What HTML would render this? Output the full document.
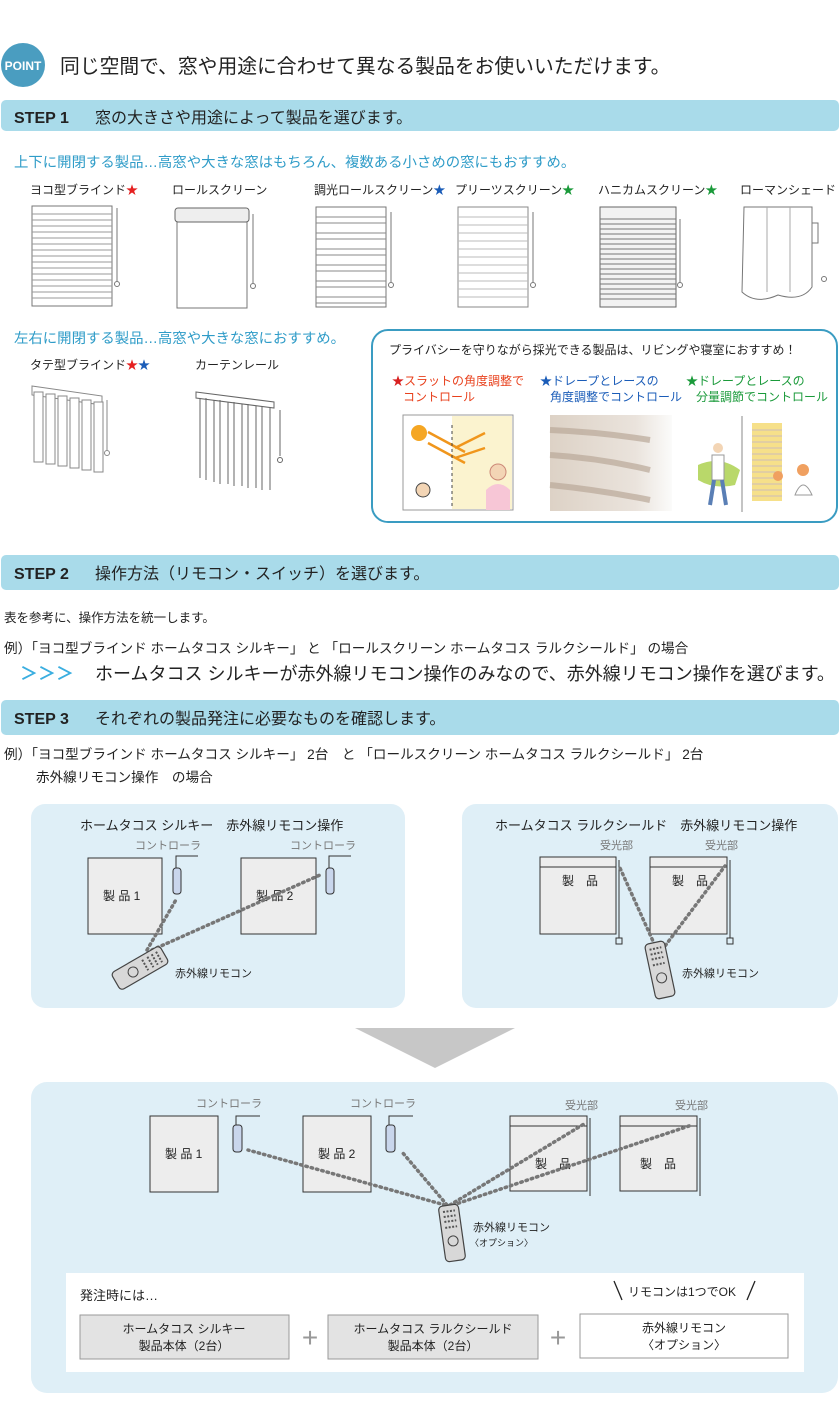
<!DOCTYPE html>
<html><head><meta charset="utf-8"><style>
html,body{margin:0;padding:0;background:#fff}
svg{display:block}
text{font-family:"Liberation Sans","Noto Sans CJK JP",sans-serif;fill:#222}
</style></head><body>
<svg width="840" height="1420" viewBox="0 0 840 1420" xmlns="http://www.w3.org/2000/svg">
<defs>
<g id="hb">
 <rect x="0" y="0" width="80" height="100" fill="#fff" stroke="#777" stroke-width="1"/>
 <path d="M0 8H80M0 14H80M0 20H80M0 26H80M0 32H80M0 38H80M0 44H80M0 50H80M0 56H80M0 62H80M0 68H80M0 74H80M0 80H80M0 86H80M0 92H80" stroke="#999" stroke-width="1"/>
 <line x1="85" y1="2" x2="85" y2="75" stroke="#777"/><circle cx="85" cy="78" r="2.5" fill="none" stroke="#777"/>
</g>
<g id="remote">
 <rect x="-10" y="-28" width="20" height="56" rx="4" fill="#d8d8d8" stroke="#444" stroke-width="1.2"/>
 <path d="M-6 -22h12M-6 -17h12M-6 -12h12M-6 -6h12" stroke="#555" stroke-width="2" stroke-dasharray="2 1.5"/>
 <circle cx="0" cy="8" r="5" fill="none" stroke="#444"/>
</g>
</defs>

<circle cx="23" cy="65" r="22" fill="#4a9dc0"/>
<text x="23" y="70" font-size="12" font-weight="bold" text-anchor="middle" style="fill:#fff">POINT</text>
<text x="60" y="73" font-size="19.8">同じ空間で、窓や用途に合わせて異なる製品をお使いいただけます。</text>

<rect x="1" y="100" width="838" height="31" rx="5" fill="#a9dbea"/>
<text x="14" y="123" font-size="16" font-weight="bold">STEP 1</text>
<text x="95" y="123" font-size="16">窓の大きさや用途によって製品を選びます。</text>
<text x="14" y="167" font-size="14.4" style="fill:#2f9cc8">上下に開閉する製品…高窓や大きな窓はもちろん、複数ある小さめの窓にもおすすめ。</text>
<text x="30" y="194" font-size="12">ヨコ型ブラインド<tspan style="fill:#e52020">★</tspan></text>
<text x="172" y="194" font-size="12">ロールスクリーン</text>
<text x="314" y="194" font-size="12">調光ロールスクリーン<tspan style="fill:#1a5cb8">★</tspan></text>
<text x="455" y="194" font-size="12">プリーツスクリーン<tspan style="fill:#1a9a3a">★</tspan></text>
<text x="598" y="194" font-size="12">ハニカムスクリーン<tspan style="fill:#1a9a3a">★</tspan></text>
<text x="740" y="194" font-size="12">ローマンシェード</text>

<use href="#hb" x="32" y="206"/>
<g transform="translate(175,208)"><rect x="2" y="8" width="70" height="92" fill="#fff" stroke="#777"/><rect x="0" y="0" width="74" height="14" rx="3" fill="#eee" stroke="#666"/><line x1="78" y1="6" x2="78" y2="75" stroke="#777"/><circle cx="78" cy="78" r="2.5" fill="none" stroke="#777"/></g>
<g transform="translate(316,207)"><rect x="0" y="0" width="70" height="100" fill="#fff" stroke="#777"/><path d="M0 10H70M0 16H70M0 26H70M0 32H70M0 42H70M0 48H70M0 58H70M0 64H70M0 74H70M0 80H70M0 90H70M0 96H70" stroke="#888"/><line x1="75" y1="5" x2="75" y2="75" stroke="#777"/><circle cx="75" cy="78" r="2.5" fill="none" stroke="#777"/></g>
<g transform="translate(458,207)"><rect x="0" y="0" width="70" height="100" fill="#fff" stroke="#888"/><path d="M0 10H70M0 18H70M0 26H70M0 34H70M0 42H70M0 50H70M0 58H70M0 66H70M0 74H70M0 82H70M0 90H70" stroke="#bbb"/><line x1="75" y1="5" x2="75" y2="75" stroke="#777"/><circle cx="75" cy="78" r="2.5" fill="none" stroke="#777"/></g>
<g transform="translate(600,207)"><rect x="0" y="0" width="76" height="100" fill="#f2f2f2" stroke="#666"/><path d="M0 12H76M0 17H76M0 22H76M0 27H76M0 32H76M0 37H76M0 42H76M0 47H76M0 52H76M0 57H76M0 62H76M0 67H76M0 72H76M0 77H76M0 82H76M0 87H76M0 92H76" stroke="#777"/><line x1="80" y1="12" x2="80" y2="75" stroke="#777"/><circle cx="80" cy="78" r="2.5" fill="none" stroke="#777"/></g>
<g transform="translate(742,207)"><path d="M2 0H70V80Q60 95 36 88Q14 98 0 85Z" fill="#fff" stroke="#777"/><line x1="25" y1="0" x2="25" y2="85" stroke="#aaa"/><line x1="48" y1="0" x2="48" y2="85" stroke="#aaa"/><rect x="70" y="16" width="6" height="20" fill="none" stroke="#777"/><circle cx="82" cy="72" r="2.5" fill="none" stroke="#777"/></g>

<text x="14" y="343" font-size="14.4" style="fill:#2f9cc8">左右に開閉する製品…高窓や大きな窓におすすめ。</text>
<text x="30" y="369" font-size="12">タテ型ブラインド<tspan style="fill:#e52020">★</tspan><tspan style="fill:#1a5cb8">★</tspan></text>
<text x="195" y="369" font-size="12">カーテンレール</text>
<g transform="translate(32,380)" stroke="#888" fill="#fff">
 <path d="M0 6L70 16V25L0 15Z"/>
 <rect x="2" y="12" width="9" height="70"/><rect x="14" y="14" width="9" height="70"/><rect x="26" y="16" width="9" height="70"/><rect x="38" y="18" width="9" height="70"/><rect x="50" y="20" width="9" height="70"/><rect x="62" y="22" width="9" height="70"/>
 <line x1="75" y1="20" x2="75" y2="70"/><circle cx="75" cy="73" r="2.5"/>
</g>
<g transform="translate(196,388)" stroke="#666" fill="#fff">
 <path d="M0 4L78 14V20L0 10Z"/>
 <path d="M4 10V90M10 10V92M18 12V94M24 12V96M32 14V96M38 14V98M46 16V98M52 16V100M60 18V100M66 18V102M74 20V102"/>
 <line x1="84" y1="22" x2="84" y2="68"/><circle cx="84" cy="72" r="2.5"/>
</g>

<rect x="372" y="330" width="465" height="192" rx="16" fill="#fff" stroke="#3a9cc2" stroke-width="2"/>
<text x="389" y="354" font-size="12">プライバシーを守りながら採光できる製品は、リビングや寝室におすすめ！</text>
<text x="392" y="385" font-size="12" style="fill:#e8401c"><tspan style="fill:#d82020">★</tspan>スラットの角度調整で</text>
<text x="403" y="401" font-size="12" style="fill:#e8401c">コントロール</text>
<text x="540" y="385" font-size="12" style="fill:#1a5cb8">★ドレープとレースの</text>
<text x="550" y="401" font-size="12" style="fill:#1a5cb8">角度調整でコントロール</text>
<text x="686" y="385" font-size="12" style="fill:#1a9a3a">★ドレープとレースの</text>
<text x="696" y="401" font-size="12" style="fill:#1a9a3a">分量調節でコントロール</text>
<rect x="403" y="415" width="110" height="95" fill="#fff" stroke="#999"/>
<rect x="452" y="416" width="60" height="93" fill="#fbf3cf"/>
<circle cx="419" cy="433" r="8" fill="#f5a623"/>
<path d="M428 432L465 452M428 443L465 463M455 448L485 433M455 458L485 448" stroke="#f0961c" stroke-width="2.5"/>
<path d="M452 425V509" stroke="#444" stroke-dasharray="3 3"/>
<circle cx="423" cy="490" r="7" fill="#f3d5b5" stroke="#444"/>
<circle cx="498" cy="472" r="8" fill="#f3d5b5" stroke="#c87"/>
<path d="M486 510V490Q498 478 510 490V510" fill="#f7c6d6"/>
<defs><linearGradient id="g2" x1="0" x2="1"><stop offset="0" stop-color="#ddd2c6"/><stop offset="0.7" stop-color="#eae3dc"/><stop offset="1" stop-color="#fbfbfa"/></linearGradient></defs>
<rect x="550" y="415" width="122" height="96" fill="url(#g2)"/>
<path d="M550 430Q600 432 650 440M550 455Q600 458 650 470M550 485Q600 490 650 500" stroke="#b9a898" stroke-width="6" fill="none" opacity="0.7"/>
<line x1="742" y1="416" x2="742" y2="512" stroke="#888"/>
<rect x="752" y="423" width="30" height="78" fill="#f6e08a"/>
<path d="M752 430H782M752 436H782M752 442H782M752 448H782M752 454H782M752 460H782M752 466H782M752 472H782M752 478H782M752 484H782M752 490H782M752 496H782" stroke="#cbb" stroke-width="1"/>
<path d="M698 465Q720 455 740 470L735 485Q715 490 698 480Z" fill="#b9d86a"/>
<circle cx="718" cy="448" r="5" fill="#f3d5b5"/><rect x="712" y="455" width="12" height="25" fill="#fff" stroke="#999"/><path d="M714 480L710 505M722 480L726 505" stroke="#5a7fb5" stroke-width="4"/>
<circle cx="803" cy="470" r="6" fill="#f0a060"/><path d="M795 495Q803 475 812 495Z" fill="#fff" stroke="#999"/>
<circle cx="778" cy="476" r="5" fill="#f0a060"/>

<rect x="1" y="555" width="838" height="35" rx="5" fill="#a9dbea"/>
<text x="14" y="579" font-size="16" font-weight="bold">STEP 2</text>
<text x="95" y="579" font-size="16">操作方法（リモコン・スイッチ）を選びます。</text>
<text x="4" y="622" font-size="12.5">表を参考に、操作方法を統一します。</text>
<text x="4" y="653" font-size="13.6">例）「ヨコ型ブラインド ホームタコス シルキー」 と 「ロールスクリーン ホームタコス ラルクシールド」 の場合</text>
<text x="20" y="680" font-size="18" font-weight="bold" style="fill:#3aaee0">＞＞＞</text>
<text x="95" y="680" font-size="18">ホームタコス シルキーが赤外線リモコン操作のみなので、赤外線リモコン操作を選びます。</text>

<rect x="1" y="700" width="838" height="35" rx="5" fill="#a9dbea"/>
<text x="14" y="724" font-size="16" font-weight="bold">STEP 3</text>
<text x="95" y="724" font-size="16">それぞれの製品発注に必要なものを確認します。</text>
<text x="4" y="759" font-size="13.6">例）「ヨコ型ブラインド ホームタコス シルキー」 2台　と 「ロールスクリーン ホームタコス ラルクシールド」 2台</text>
<text x="36" y="782" font-size="13.6">赤外線リモコン操作　の場合</text>

<rect x="31" y="804" width="374" height="204" rx="14" fill="#dfeff7"/>
<text x="80" y="830" font-size="13">ホームタコス シルキー　赤外線リモコン操作</text>
<text x="135" y="849" font-size="11" style="fill:#777">コントローラ</text>
<text x="290" y="849" font-size="11" style="fill:#777">コントローラ</text>
<rect x="88" y="858" width="74" height="76" fill="#ededed" stroke="#333"/>
<text x="103" y="900" font-size="12">製 品 1</text>
<rect x="241" y="858" width="75" height="76" fill="#ededed" stroke="#333"/>
<text x="256" y="900" font-size="12">製 品 2</text>
<path d="M176 868V856H198M329 868V856H351" stroke="#333" fill="none"/>
<rect x="173" y="868" width="8" height="26" rx="3" fill="#c9d6ec" stroke="#333"/>
<rect x="326" y="868" width="8" height="26" rx="3" fill="#c9d6ec" stroke="#333"/>
<path d="M147 950L177 898M152 950L320 875" stroke="#777" stroke-width="3.5" stroke-dasharray="1.5 4" stroke-linecap="round"/>
<g transform="translate(140,968) rotate(60)"><use href="#remote"/></g>
<text x="175" y="977" font-size="11">赤外線リモコン</text>

<rect x="462" y="804" width="376" height="204" rx="14" fill="#dfeff7"/>
<text x="495" y="830" font-size="13">ホームタコス ラルクシールド　赤外線リモコン操作</text>
<text x="600" y="849" font-size="11" style="fill:#777">受光部</text>
<text x="705" y="849" font-size="11" style="fill:#777">受光部</text>
<rect x="540" y="857" width="76" height="77" fill="#ededed" stroke="#333"/><line x1="540" y1="867" x2="616" y2="867" stroke="#333"/>
<text x="562" y="885" font-size="12">製　品</text>
<rect x="650" y="857" width="77" height="77" fill="#ededed" stroke="#333"/><line x1="650" y1="867" x2="727" y2="867" stroke="#333"/>
<text x="672" y="885" font-size="12">製　品</text>
<path d="M619 860V938M730 860V938" stroke="#333"/>
<rect x="616" y="938" width="6" height="6" fill="none" stroke="#333"/><rect x="727" y="938" width="6" height="6" fill="none" stroke="#333"/>
<path d="M657 950L620 868M662 950L725 866" stroke="#777" stroke-width="3.5" stroke-dasharray="1.5 4" stroke-linecap="round"/>
<g transform="translate(660,970) rotate(-12)"><use href="#remote"/></g>
<text x="682" y="977" font-size="11">赤外線リモコン</text>

<polygon points="355,1028 515,1028 435,1068" fill="#c7c7c7"/>

<rect x="31" y="1082" width="807" height="311" rx="16" fill="#dfeff7"/>
<text x="196" y="1107" font-size="11" style="fill:#777">コントローラ</text>
<text x="350" y="1107" font-size="11" style="fill:#777">コントローラ</text>
<text x="565" y="1109" font-size="11" style="fill:#777">受光部</text>
<text x="675" y="1109" font-size="11" style="fill:#777">受光部</text>
<rect x="150" y="1116" width="68" height="76" fill="#ededed" stroke="#333"/>
<text x="165" y="1158" font-size="12">製 品 1</text>
<rect x="303" y="1116" width="68" height="76" fill="#ededed" stroke="#333"/>
<text x="318" y="1158" font-size="12">製 品 2</text>
<path d="M236 1125V1116H260M389 1125V1116H413" stroke="#333" fill="none"/>
<rect x="233" y="1125" width="9" height="27" rx="3" fill="#c9d6ec" stroke="#333"/>
<rect x="386" y="1125" width="9" height="27" rx="3" fill="#c9d6ec" stroke="#333"/>
<rect x="510" y="1116" width="77" height="75" fill="#ededed" stroke="#333"/><line x1="510" y1="1126" x2="587" y2="1126" stroke="#333"/>
<text x="535" y="1168" font-size="12">製　品</text>
<rect x="620" y="1116" width="77" height="75" fill="#ededed" stroke="#333"/><line x1="620" y1="1126" x2="697" y2="1126" stroke="#333"/>
<text x="640" y="1168" font-size="12">製　品</text>
<path d="M590 1118V1196M700 1118V1196" stroke="#333"/>
<path d="M445 1205L248 1150M447 1205L402 1152M450 1205L584 1124M453 1205L692 1125" stroke="#777" stroke-width="3.5" stroke-dasharray="1.5 4" stroke-linecap="round"/>
<g transform="translate(452,1233) rotate(-8)"><use href="#remote"/></g>
<text x="473" y="1231" font-size="11">赤外線リモコン</text>
<text x="470" y="1246" font-size="9">〈オプション〉</text>

<rect x="66" y="1273" width="738" height="99" fill="#fff"/>
<text x="80" y="1300" font-size="13">発注時には…</text>
<path d="M614 1281L622 1300M755 1281L747 1300" stroke="#222" stroke-width="1.3"/>
<text x="628" y="1296" font-size="12">リモコンは1つでOK</text>
<rect x="80" y="1315" width="209" height="44" fill="#e3e3e3" stroke="#999"/>
<text x="184" y="1333" font-size="12" text-anchor="middle">ホームタコス シルキー</text>
<text x="184" y="1350" font-size="12" text-anchor="middle">製品本体（2台）</text>
<text x="310" y="1347" font-size="28" text-anchor="middle" style="fill:#999">+</text>
<rect x="328" y="1315" width="210" height="44" fill="#e3e3e3" stroke="#999"/>
<text x="433" y="1333" font-size="12" text-anchor="middle">ホームタコス ラルクシールド</text>
<text x="433" y="1350" font-size="12" text-anchor="middle">製品本体（2台）</text>
<text x="558" y="1347" font-size="28" text-anchor="middle" style="fill:#999">+</text>
<rect x="580" y="1314" width="208" height="44" fill="#fff" stroke="#999"/>
<text x="684" y="1332" font-size="12" text-anchor="middle">赤外線リモコン</text>
<text x="684" y="1349" font-size="12" text-anchor="middle">〈オプション〉</text>
</svg>
</body></html>
